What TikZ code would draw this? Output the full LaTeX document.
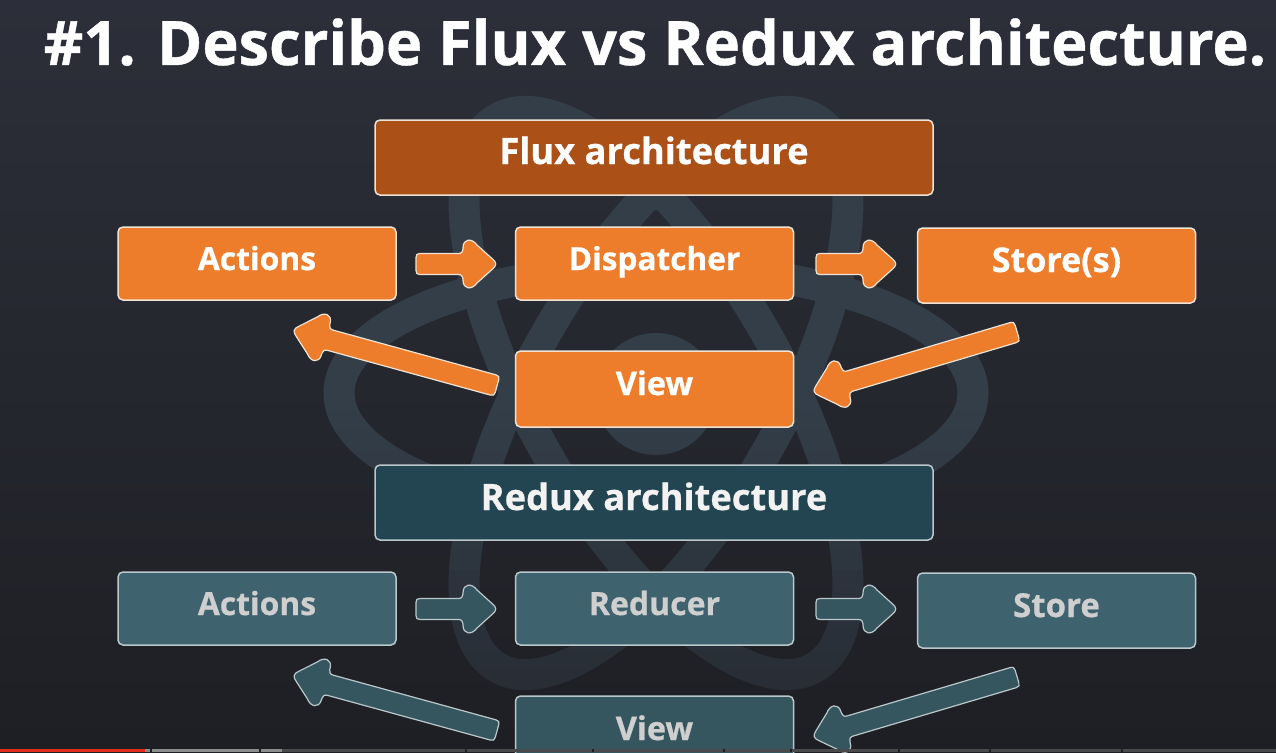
\documentclass[tikz,border=0pt]{standalone}
\usepackage{fontspec}
\setmainfont{Open Sans}[BoldFont={Open Sans Bold},BoldFeatures={FakeBold=0.7}]
\usetikzlibrary{calc}
\definecolor{bgtop}{HTML}{2C2F39}
\definecolor{bgmid}{HTML}{282B33}
\definecolor{bgbot}{HTML}{1E1F24}
\definecolor{logoA}{HTML}{343E49}
\definecolor{logoB}{HTML}{272B33}
\definecolor{orangeF}{HTML}{ED7D2B}
\definecolor{rustF}{HTML}{AB5117}
\definecolor{tealF}{HTML}{3F636E}
\definecolor{tealV}{HTML}{36565F}
\definecolor{tealT}{HTML}{234551}
\definecolor{edgeL}{HTML}{EFE3D6}
\definecolor{edgeT}{HTML}{BAC8CB}
\definecolor{txtG}{HTML}{CFCFCF}
\definecolor{barD}{HTML}{4A4A4C}
\definecolor{barL}{HTML}{8C8C8C}
\definecolor{barR}{HTML}{E42A1A}
\tikzset{
  x=1pt,y=-1pt,
  fsize/.style={font=\bfseries\fontsize{#1}{#1}\selectfont},
  box/.style={draw=edgeL,line width=1.5pt,rounded corners=5pt,fill=orangeF,fsize=31.8,text=white,
     minimum width=278pt,minimum height=73pt,inner sep=0pt,text height=0pt,text depth=0pt},
  tealbox/.style={box,draw=edgeT,fill=tealF,text=txtG},
  titlebox/.style={box,minimum width=558pt,minimum height=75pt,fill=rustF,fsize=36.3},
  rtitlebox/.style={titlebox,draw=edgeT,fill=tealT,text=white!95!black},
  orangearrow/.style={draw=edgeL,line width=1.2pt,fill=orangeF,line join=round},
  tealarrow/.style={draw=edgeT,line width=1.2pt,fill=tealV,line join=round},
}
% block arrow from a tail coordinate to a tip coordinate
\newcommand{\blockarrow}[3]{%
  \path[#1] let \p1=($(#3)-(#2)$),\n1={atan2(\y1,\x1)},\n2={veclen(\x1,\y1)} in
    [shift={(#2)},rotate=\n1]
    (4,-10.5) -- (\n2-39,-10.5)
    .. controls (\n2-35.5,-10.5) and (\n2-34,-12) .. (\n2-34,-15) -- (\n2-34,-16)
    .. controls (\n2-34,-26) and (\n2-25,-26) .. (\n2-20,-19) -- (\n2-5,-5.5)
    .. controls (\n2,-1.5) and (\n2,1.5) .. (\n2-5,5.5) -- (\n2-20,19)
    .. controls (\n2-25,26) and (\n2-34,26) .. (\n2-34,16) -- (\n2-34,15)
    .. controls (\n2-34,12) and (\n2-35.5,10.5) .. (\n2-39,10.5)
    -- (4,10.5) .. controls (1,10.5) and (0,9.5) .. (0,6.5) -- (0,-6.5)
    .. controls (0,-9.5) and (1,-10.5) .. (4,-10.5) -- cycle;}
\newcommand{\up}[2]{\raisebox{#1pt}{#2}}
\begin{document}
\begin{tikzpicture}
\useasboundingbox (0,0) rectangle (1276,752);
\shade[top color=bgtop,middle color=bgmid,bottom color=bgbot] (0,0) rectangle (1276,752);
% faded logo, drawn in horizontal bands so that it darkens downwards
\foreach \i in {0,...,31}{
  \pgfmathsetmacro{\pc}{min(100,100*(31-\i)/16)}
  \begin{scope}
    \clip (0,90+20*\i) rectangle (1276,110.4+20*\i);
    \colorlet{logoC}{logoA!\pc!logoB}
    \fill[logoC] (656,394) circle[radius=61];
    \foreach \a in {0,60,120}
      \draw[logoC,line width=31pt,rotate around={\a:(656,393)}] (656,393) ellipse[x radius=317,y radius=125];
  \end{scope}
}
\node[fsize=61.3,text=white,inner sep=0pt,text height=0pt,text depth=0pt] (title) at (655,44) {\up{-21}{\#1. Describe Flux vs Redux architecture.}};
% Flux
\node[titlebox] (fluxT) at (654,157.5) {\up{-6.5}{Flux architecture}};
\node[box] (fa) at (257,263.5) {\up{-6.5}{Actions}};
\node[box,fsize=31.6] (fd) at (654.5,263.5) {\up{-6.5}{Dispatcher}};
\node[box,minimum height=75pt,fsize=34] (fs) at (1056.5,265.5) {\up{-6.5}{Store(s)}};
\node[box,minimum height=76pt,fsize=32.5] (fv) at (654.5,389) {\up{-6}{View}};
\coordinate (f1a) at (416,264); \coordinate (f1b) at (497,264);
\coordinate (f2a) at (816,264); \coordinate (f2b) at (897,264);
\coordinate (f3a) at (1017,331.5); \coordinate (f3b) at (813,392);
\coordinate (f4a) at (497,386); \coordinate (f4b) at (293,330);
\blockarrow{orangearrow}{f1a}{f1b}
\blockarrow{orangearrow}{f2a}{f2b}
\blockarrow{orangearrow}{f3a}{f3b}
\blockarrow{orangearrow}{f4a}{f4b}
% Redux
\node[rtitlebox] (redT) at (654,502.5) {\up{-7.5}{Redux architecture}};
\node[tealbox] (ra) at (257,608.5) {\up{-6.5}{Actions}};
\node[tealbox,fsize=32] (rd) at (654.5,608.5) {\up{-6.5}{Reducer}};
\node[tealbox,minimum height=75pt,fsize=33] (rs) at (1056.5,610.5) {\up{-6.5}{Store}};
\node[tealbox,fill=tealV,minimum height=76pt,fsize=32.5] (rv) at (654.5,734) {\up{-6}{View}};
\coordinate (r1a) at (416,609); \coordinate (r1b) at (497,609);
\coordinate (r2a) at (816,609); \coordinate (r2b) at (897,609);
\coordinate (r3a) at (1017,676.5); \coordinate (r3b) at (813,737);
\coordinate (r4a) at (497,731); \coordinate (r4b) at (293,675);
\blockarrow{tealarrow}{r1a}{r1b}
\blockarrow{tealarrow}{r2a}{r2b}
\blockarrow{tealarrow}{r3a}{r3b}
\blockarrow{tealarrow}{r4a}{r4b}
% progress bar
\fill[barD] (0,749) rectangle (1276,752);
\fill[barL] (0,749) rectangle (282,752);
\fill[barR] (0,749) rectangle (145,752);
\foreach \g in {150,259,465,592,723,790,898,989,1121}
  \fill[bgbot] (\g,749) rectangle (\g+1.6,752);
\end{tikzpicture}
\end{document}
